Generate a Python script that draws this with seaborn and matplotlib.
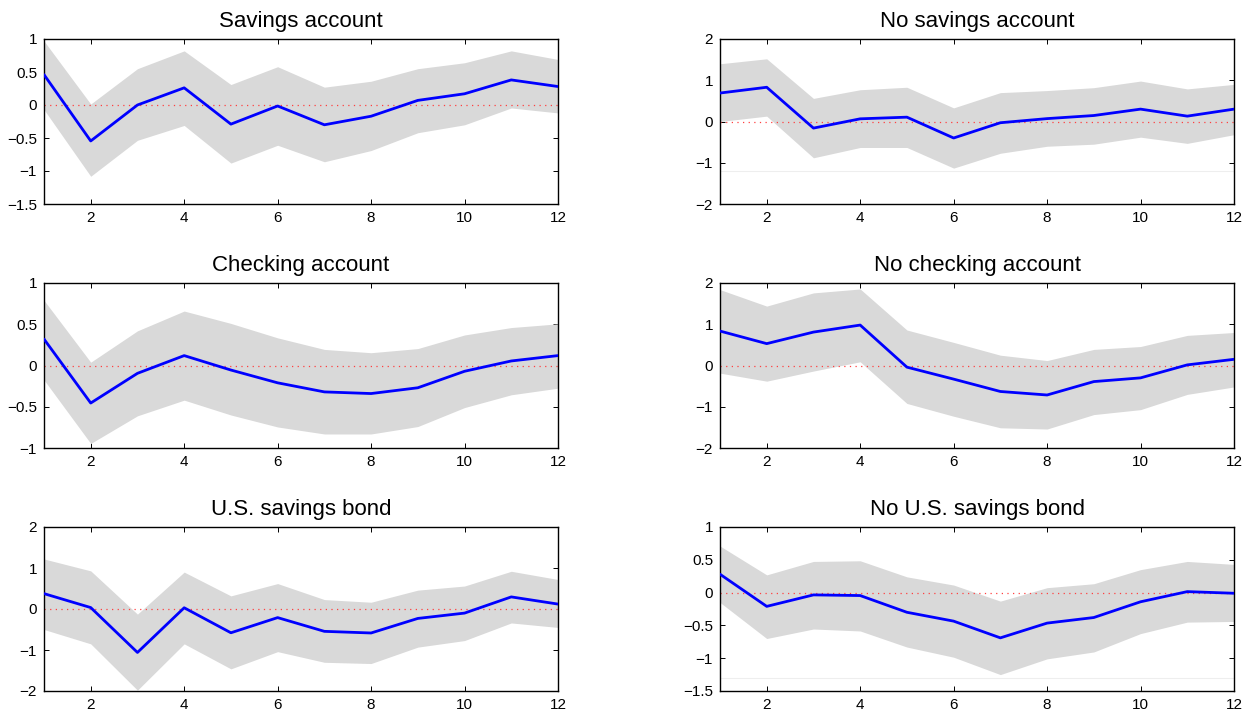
import numpy as np
import pandas as pd
import matplotlib
matplotlib.use("Agg")
import matplotlib.pyplot as plt
import seaborn as sns

sns.set_style("ticks")
plt.rcParams['font.family'] = ['Liberation Sans', 'DejaVu Sans']
plt.rcParams['text.color'] = 'black'

horizon = list(range(1, 13))

titles = ["Savings account", "No savings account",
          "Checking account", "No checking account",
          "U.S. savings bond", "No U.S. savings bond"]

# Savings account
sav_mid = [0.46, -0.545, 0.0, 0.26, -0.29, -0.015, -0.30, -0.17, 0.07, 0.17, 0.38, 0.28]
sav_up = [0.97, 0.015, 0.55, 0.82, 0.31, 0.58, 0.27, 0.36, 0.55, 0.64, 0.82, 0.69]
sav_lo = [-0.07, -1.08, -0.535, -0.31, -0.88, -0.61, -0.86, -0.69, -0.42, -0.30, -0.045, -0.12]

# No savings account
nosav_mid = [0.69, 0.83, -0.16, 0.065, 0.105, -0.40, -0.03, 0.07, 0.145, 0.30, 0.13, 0.30]
nosav_up = [1.40, 1.52, 0.56, 0.77, 0.83, 0.33, 0.70, 0.75, 0.82, 0.98, 0.79, 0.90]
nosav_lo = [0.0, 0.13, -0.88, -0.63, -0.63, -1.13, -0.77, -0.60, -0.55, -0.38, -0.53, -0.32]

# Checking account
chk_mid = [0.32, -0.455, -0.095, 0.12, -0.055, -0.21, -0.32, -0.34, -0.27, -0.07, 0.055, 0.12]
chk_up = [0.79, 0.04, 0.42, 0.66, 0.51, 0.335, 0.195, 0.155, 0.205, 0.37, 0.46, 0.505]
chk_lo = [-0.175, -0.945, -0.61, -0.42, -0.60, -0.745, -0.83, -0.83, -0.74, -0.51, -0.355, -0.275]

# No checking account
nochk_mid = [0.835, 0.53, 0.81, 0.98, -0.04, -0.33, -0.63, -0.715, -0.39, -0.30, 0.015, 0.15]
nochk_up = [1.84, 1.44, 1.76, 1.855, 0.86, 0.56, 0.25, 0.12, 0.39, 0.46, 0.73, 0.80]
nochk_lo = [-0.185, -0.38, -0.135, 0.09, -0.92, -1.23, -1.51, -1.54, -1.19, -1.07, -0.70, -0.52]

# U.S. savings bond
bond_mid = [0.375, 0.035, -1.06, 0.03, -0.58, -0.21, -0.545, -0.585, -0.23, -0.10, 0.295, 0.12]
bond_up = [1.22, 0.93, -0.125, 0.90, 0.32, 0.62, 0.23, 0.165, 0.46, 0.56, 0.92, 0.72]
bond_lo = [-0.50, -0.85, -1.98, -0.85, -1.46, -1.04, -1.30, -1.33, -0.93, -0.77, -0.34, -0.45]

# No U.S. savings bond
nobond_mid = [0.28, -0.21, -0.035, -0.045, -0.30, -0.435, -0.69, -0.465, -0.38, -0.14, 0.015, -0.01]
nobond_up = [0.71, 0.27, 0.475, 0.485, 0.24, 0.115, -0.13, 0.075, 0.135, 0.35, 0.475, 0.43]
nobond_lo = [-0.15, -0.70, -0.555, -0.585, -0.83, -0.985, -1.25, -1.01, -0.905, -0.625, -0.45, -0.44]

mids = [sav_mid, nosav_mid, chk_mid, nochk_mid, bond_mid, nobond_mid]
ups = [sav_up, nosav_up, chk_up, nochk_up, bond_up, nobond_up]
los = [sav_lo, nosav_lo, chk_lo, nochk_lo, bond_lo, nobond_lo]

ylims = [(-1.5, 1), (-2, 2), (-1, 1), (-2, 2), (-2, 2), (-1.5, 1)]
ysteps = [0.5, 1, 0.5, 1, 1, 0.5]
xticks = [2, 4, 6, 8, 10, 12]
faint_lines = [None, -1.2, None, None, None, -1.3]

W, H = 1247, 713
fig = plt.figure(figsize=(W / 100, H / 100), dpi=100)

col_left = [44, 720]
ax_w = 514
rows = [(39, 204), (283, 448), (527, 691)]


def fmt(v):
    s = ("%g" % v)
    return s.replace("-", "\u2212")


for k in range(6):
    r, c = divmod(k, 2)
    top, bot = rows[r]
    ax = fig.add_axes([col_left[c] / W, 1 - bot / H, ax_w / W, (bot - top) / H])
    df = pd.DataFrame({"h": horizon, "mid": mids[k], "up": ups[k], "lo": los[k]})
    ax.fill_between(df["h"], df["lo"], df["up"], color="#d9d9d9", lw=0, zorder=1)
    if faint_lines[k] is not None:
        ax.axhline(faint_lines[k], color="#eeeeee", lw=0.8, zorder=1.5)
    ax.axhline(0, color="#ff4040", lw=0.9, ls=(0, (1, 3.5)), zorder=2)
    sns.lineplot(data=df, x="h", y="mid", ax=ax, color="blue", lw=2, zorder=3)
    ax.set_xlim(1, 12)
    lo_, hi_ = ylims[k]
    ax.set_ylim(lo_, hi_)
    yt = np.arange(lo_, hi_ + 1e-9, ysteps[k])
    ax.set_yticks(yt)
    ax.set_yticklabels([fmt(v) for v in yt])
    ax.set_xticks(xticks)
    ax.set_xticklabels([str(v) for v in xticks])
    ax.set_xlabel("")
    ax.set_ylabel("")
    ax.tick_params(direction="in", length=3.5, width=0.7, top=True, right=True,
                   labelsize=11, pad=5, colors="black")
    for sp in ax.spines.values():
        sp.set_visible(True)
        sp.set_linewidth(1.0)
        sp.set_color("black")
    ax.set_title(titles[k], fontsize=16, pad=9, color="black")

fig.savefig("out.png", dpi=100)
